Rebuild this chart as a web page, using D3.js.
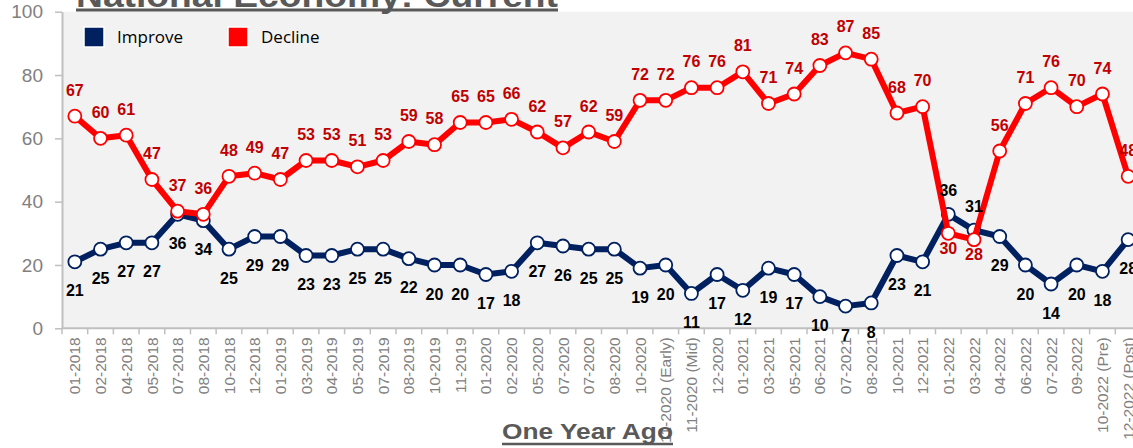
<!DOCTYPE html>
<html lang="en">
<head>
<meta charset="UTF-8">
<title>National Economy: Current</title>
<script src="https://d3js.org/d3.v7.min.js"></script>
<style>
  body { margin: 0; background: #fff; }
  text { font-family: "Liberation Sans", Arial, sans-serif; }
</style>
</head>
<body>
<div id="chart-container"></div>
<script>
// survey waves
const categories = [
  "01-2018", "02-2018", "04-2018", "05-2018", "07-2018", "08-2018", "10-2018", "12-2018",
  "01-2019", "03-2019", "04-2019", "05-2019", "07-2019", "08-2019", "10-2019", "11-2019",
  "01-2020", "02-2020", "05-2020", "07-2020", "07-2020", "08-2020", "10-2020",
  "11-2020 (Early)", "11-2020 (Mid)", "12-2020", "01-2021", "03-2021", "05-2021", "06-2021",
  "07-2021", "08-2021", "10-2021", "12-2021", "01-2022", "03-2022", "04-2022", "06-2022",
  "07-2022", "09-2022", "10-2022 (Pre)", "12-2022 (Post)"
];
const improve = [21, 25, 27, 27, 36, 34, 25, 29, 29, 23, 23, 25, 25, 22, 20, 20, 17, 18, 27, 26, 25,
  25, 19, 20, 11, 17, 12, 19, 17, 10, 7, 8, 23, 21, 36, 31, 29, 20, 14, 20, 18, 28];
const decline = [67, 60, 61, 47, 37, 36, 48, 49, 47, 53, 53, 51, 53, 59, 58, 65, 65, 66, 62, 57, 62,
  59, 72, 72, 76, 76, 81, 71, 74, 83, 87, 85, 68, 70, 30, 28, 56, 71, 76, 70, 74, 48];
const yTicks = [0, 20, 40, 60, 80, 100];

const width = 1133, height = 448;
const navy = "#002060", red = "#ff0000";

const svg = d3.select("#chart-container")
  .append("svg")
  .attr("width", width)
  .attr("height", height);

const x = d3.scaleBand()
  .domain(d3.range(categories.length))
  .range([62, 1141]);
const y = d3.scaleLinear().domain([0, 100]).range([328.3, 11.7]);
const cx = i => x(i) + x.bandwidth() / 2;

// plot area
svg.append("rect")
  .attr("x", 62).attr("y", y(100))
  .attr("width", width - 62).attr("height", y(0) - y(100))
  .attr("fill", "#f2f2f2");

// y axis
const yAxis = svg.append("g")
  .attr("transform", "translate(62,0)")
  .call(d3.axisLeft(y).tickValues(yTicks).tickSize(7).tickSizeOuter(0).tickPadding(12));
yAxis.select(".domain").attr("stroke", "#bfbfbf").attr("stroke-width", 2);
yAxis.selectAll(".tick line").attr("stroke", "#bfbfbf").attr("stroke-width", 1.5);
yAxis.selectAll(".tick text").attr("fill", "#808080").style("font-size", "19px");

// x axis (ticks between categories)
svg.append("line")
  .attr("x1", 62).attr("x2", width)
  .attr("y1", y(0)).attr("y2", y(0))
  .attr("stroke", "#bfbfbf").attr("stroke-width", 2);
svg.selectAll(".xtick")
  .data(d3.range(categories.length + 1))
  .enter().append("line")
  .attr("class", "xtick")
  .attr("x1", i => i < categories.length ? x(i) : x(i - 1) + x.bandwidth())
  .attr("x2", i => i < categories.length ? x(i) : x(i - 1) + x.bandwidth())
  .attr("y1", y(0)).attr("y2", y(0) + 6)
  .attr("stroke", "#bfbfbf").attr("stroke-width", 1.5);
svg.selectAll(".xlabel")
  .data(categories)
  .enter().append("text")
  .attr("class", "xlabel")
  .attr("transform", (d, i) => `translate(${cx(i)},${y(0) + 9}) rotate(-90)`)
  .attr("dy", "0.36em")
  .attr("text-anchor", "end")
  .attr("fill", "#808080")
  .style("font-size", "15.5px")
  .text(d => d);

// series
const line = d3.line().x((d, i) => cx(i)).y(d => y(d));
function drawSeries(values, color) {
  svg.append("path")
    .datum(values)
    .attr("d", line)
    .attr("fill", "none")
    .attr("stroke", color)
    .attr("stroke-width", 6)
    .attr("stroke-linejoin", "round");
  svg.selectAll(null)
    .data(values)
    .enter().append("circle")
    .attr("cx", (d, i) => cx(i))
    .attr("cy", d => y(d))
    .attr("r", 6.5)
    .attr("fill", "white")
    .attr("stroke", color)
    .attr("stroke-width", 1.8);
}
drawSeries(improve, navy);
drawSeries(decline, red);

// data labels: decline above, improve below (swapped where lines cross)
svg.selectAll(".lab-imp")
  .data(improve)
  .enter().append("text")
  .attr("class", "lab-imp")
  .attr("x", (d, i) => cx(i))
  .attr("y", (d, i) => y(d) + (d > decline[i] ? -24 : 29))
  .attr("dy", "0.35em")
  .attr("text-anchor", "middle")
  .attr("font-weight", "bold")
  .style("font-size", "16px")
  .attr("fill", "#000")
  .text(d => d);
svg.selectAll(".lab-dec")
  .data(decline)
  .enter().append("text")
  .attr("class", "lab-dec")
  .attr("x", (d, i) => cx(i))
  .attr("y", (d, i) => y(d) + (d < improve[i] ? 15 : -26))
  .attr("dy", "0.35em")
  .attr("text-anchor", "middle")
  .attr("font-weight", "bold")
  .style("font-size", "16px")
  .attr("fill", "#c00000")
  .text(d => d);

// legend
const legend = [{ name: "Improve", color: navy, x: 84 }, { name: "Decline", color: red, x: 228 }];
const lg = svg.selectAll(".legend").data(legend).enter().append("g").attr("class", "legend");
lg.append("rect")
  .attr("x", d => d.x).attr("y", 27)
  .attr("width", 20).attr("height", 20)
  .attr("fill", d => d.color)
  .attr("stroke", "white").attr("stroke-width", 1.5);
lg.append("text")
  .attr("x", d => d.x + 33).attr("y", 43)
  .style("font-family", "'Open Sans', sans-serif")
  .style("font-size", "17px")
  .attr("fill", "#000")
  .text(d => d.name);

// titles
function titleText(label, x0, baseline, size, len, uy, uw) {
  svg.append("text")
    .attr("x", x0).attr("y", baseline)
    .attr("font-weight", "bold")
    .style("font-size", size + "px")
    .attr("fill", "#595959")
    .attr("textLength", len)
    .attr("lengthAdjust", "spacingAndGlyphs")
    .text(label);
  svg.append("line")
    .attr("x1", x0).attr("x2", x0 + len)
    .attr("y1", uy).attr("y2", uy)
    .attr("stroke", "#595959").attr("stroke-width", uw);
}
titleText("National Economy: Current", 76, 7, 34, 482, 10, 3);
titleText("One Year Ago", 502, 439, 22, 171, 444, 2.5);
</script>
</body>
</html>
